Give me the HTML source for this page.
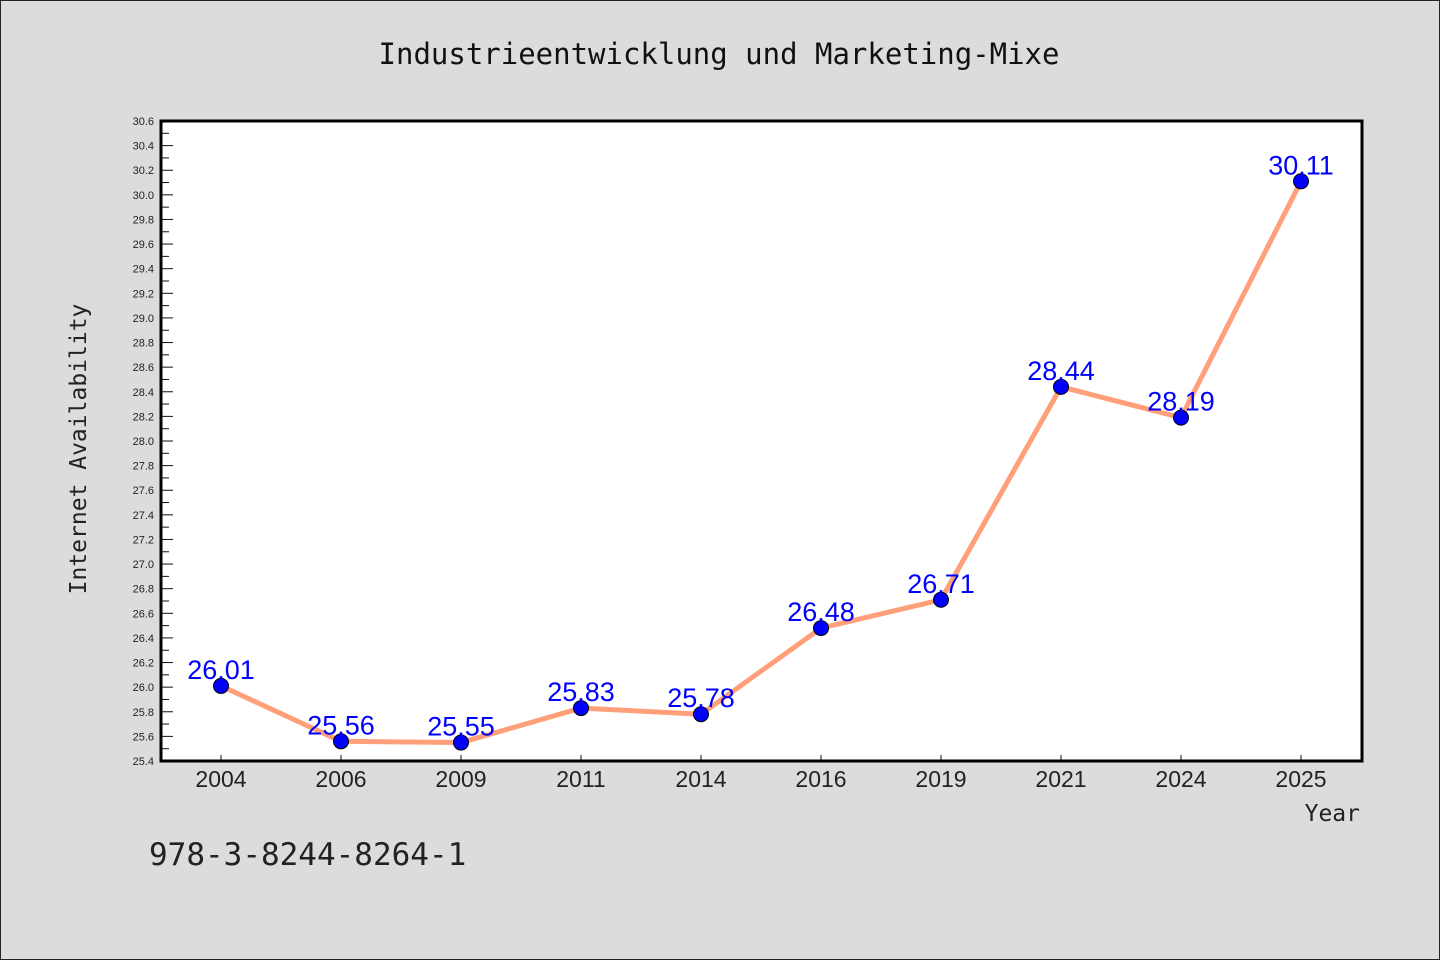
<!DOCTYPE html>
<html><head><meta charset="utf-8"><style>
html,body{margin:0;padding:0;background:#dcdcdc;}
#wrap{position:relative;width:1440px;height:960px;box-sizing:border-box;border:1px solid #222;background:#dcdcdc;overflow:hidden;}
svg{position:absolute;left:0;top:0;}
text{font-family:"Liberation Sans","DejaVu Sans",sans-serif;}
.mono{font-family:"DejaVu Sans Mono","Liberation Mono",monospace;}
</style></head><body>
<div id="wrap">
<svg id="chart" width="1440" height="960"></svg>
</div>
<script>
const categories = ["2004","2006","2009","2011","2014","2016","2019","2021","2024","2025"];
const values = [26.01,25.56,25.55,25.83,25.78,26.48,26.71,28.44,28.19,30.11];
const valueLabels = ["26.01","25.56","25.55","25.83","25.78","26.48","26.71","28.44","28.19","30.11"];
const yMin = 25.4, yMax = 30.6;

const NS = "http://www.w3.org/2000/svg";
const svg = document.getElementById("chart");
const L = 160, R = 1361, T = 120, B = 760;
function xs(i){ return 220 + i * 120; }
function ys(v){ return B - (v - yMin) / (yMax - yMin) * (B - T); }
function mk(tag, attrs, parent){
  const e = document.createElementNS(NS, tag);
  for (const k in attrs) e.setAttribute(k, attrs[k]);
  (parent || svg).appendChild(e);
  return e;
}

const title = mk("text", {x:718, y:63, "text-anchor":"middle", "font-size":29, fill:"#111", class:"mono"});


title.textContent = "Industrieentwicklung und Marketing-Mixe";

const plot = mk("rect", {x:L, y:T, width:R-L, height:B-T, fill:"#fff", stroke:"none"});



// y ticks
const yAxis = mk("g", {});


for (let k = 0; k <= 52; k++) {
  const v = yMin + k * 0.1;
  const y = ys(v);
  const major = k % 2 === 0;
  mk("line", {x1:L, x2:L + (major ? 12 : 8), y1:y, y2:y, stroke:"#111", "stroke-width":1}, yAxis);
  if (major) {
    const t = mk("text", {x:153, y:y + 4, "text-anchor":"end", "font-size":11, fill:"#222"}, yAxis);
    
    
    t.textContent = v.toFixed(1);
  }
}

// x ticks
const xAxis = mk("g", {});


categories.forEach((c, i) => {
  const x = xs(i);
  mk("line", {x1:x, x2:x, y1:B, y2:B - 6, stroke:"#111", "stroke-width":1}, xAxis);
  const t = mk("text", {x:x, y:786, "text-anchor":"middle", "font-size":23, fill:"#222"}, xAxis);
  
  
  t.textContent = c;
});

const frame = mk("rect", {x:L, y:T, width:R-L, height:B-T, fill:"none", stroke:"#000", "stroke-width":3});



// line
const pts = values.map((v, i) => xs(i) + "," + ys(v)).join(" ");
const line = mk("polyline", {points:pts, fill:"none", stroke:"#ffa07a", "stroke-width":5, "stroke-linejoin":"round"});



values.forEach((v, i) => {
  const c = mk("circle", {cx:xs(i), cy:ys(v), r:7.5, fill:"#0000ff", stroke:"#000", "stroke-width":1});
  
  
});
values.forEach((v, i) => {
  const t = mk("text", {x:xs(i), y:ys(v) - 7, "text-anchor":"middle", "font-size":27, fill:"#0000ff"});
  
  
  t.textContent = valueLabels[i];
});

const xt = mk("text", {x:1359, y:820, "text-anchor":"end", "font-size":23, fill:"#222", class:"mono"});


xt.textContent = "Year";

const yt = mk("text", {x:0, y:0, "text-anchor":"middle", "font-size":23, fill:"#222", class:"mono", transform:"translate(85,448) rotate(-90)"});


yt.textContent = "Internet Availability";

const isbn = mk("text", {x:148, y:864, "font-size":31, fill:"#222", class:"mono"});


isbn.textContent = "978-3-8244-8264-1";
</script>
</body></html>
